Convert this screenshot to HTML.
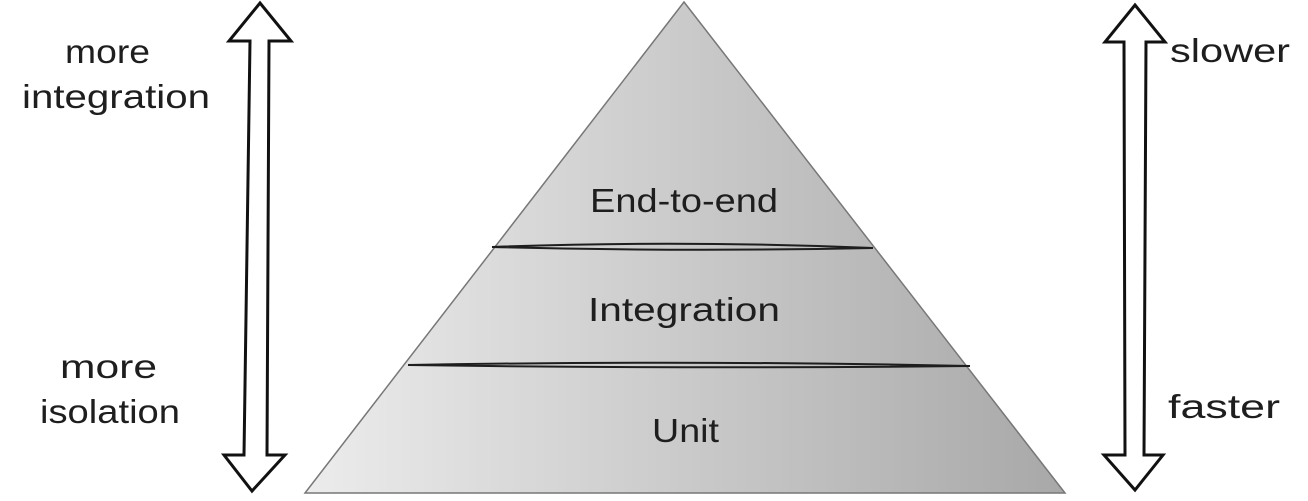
<!DOCTYPE html>
<html><head><style>
body{margin:0;width:1308px;height:496px;background:#fff;overflow:hidden}
svg text{font-family:"Liberation Sans",sans-serif;font-size:33px;fill:#1e1e1e}
</style></head><body>
<svg width="1308" height="496" viewBox="0 0 1308 496">
<defs><linearGradient id="g" x1="0" x2="1"><stop offset="0" stop-color="#ececec"/><stop offset="1" stop-color="#a8a8a8"/></linearGradient></defs>
<polygon points="684,2 1065,493 305,493" fill="url(#g)" stroke="#777" stroke-width="1.5"/>
<path d="M492,247 Q680,240 873,248 Q680,252 492,247Z" fill="none" stroke="#1e1e1e" stroke-width="2"/>
<path d="M408,365 Q690,360 970,366 Q690,369 408,365Z" fill="none" stroke="#1e1e1e" stroke-width="2"/>
<text x="590" y="212" textLength="188" lengthAdjust="spacingAndGlyphs">End-to-end</text>
<text x="588" y="321" textLength="192" lengthAdjust="spacingAndGlyphs">Integration</text>
<text x="652" y="442" textLength="67" lengthAdjust="spacingAndGlyphs">Unit</text>
<path d="M260,3 L291,41 L269,41 L267,455 L285,455 L252,491 L224,455 L244,455 L250,41 L229,41 Z" fill="none" stroke="#111" stroke-width="3" stroke-linejoin="miter"/>
<path d="M1135,5 L1165,42 L1146,42 L1144,455 L1163,455 L1135,490 L1104,455 L1125,455 L1124,42 L1105,42 Z" fill="none" stroke="#111" stroke-width="3"/>
<text x="65" y="63" textLength="85" lengthAdjust="spacingAndGlyphs">more</text>
<text x="22" y="108" textLength="188" lengthAdjust="spacingAndGlyphs">integration</text>
<text x="60" y="378" textLength="97" lengthAdjust="spacingAndGlyphs">more</text>
<text x="40" y="423" textLength="140" lengthAdjust="spacingAndGlyphs">isolation</text>
<text x="1170" y="62" textLength="120" lengthAdjust="spacingAndGlyphs">slower</text>
<text x="1168" y="418" textLength="112" lengthAdjust="spacingAndGlyphs">faster</text>
</svg>
</body></html>
